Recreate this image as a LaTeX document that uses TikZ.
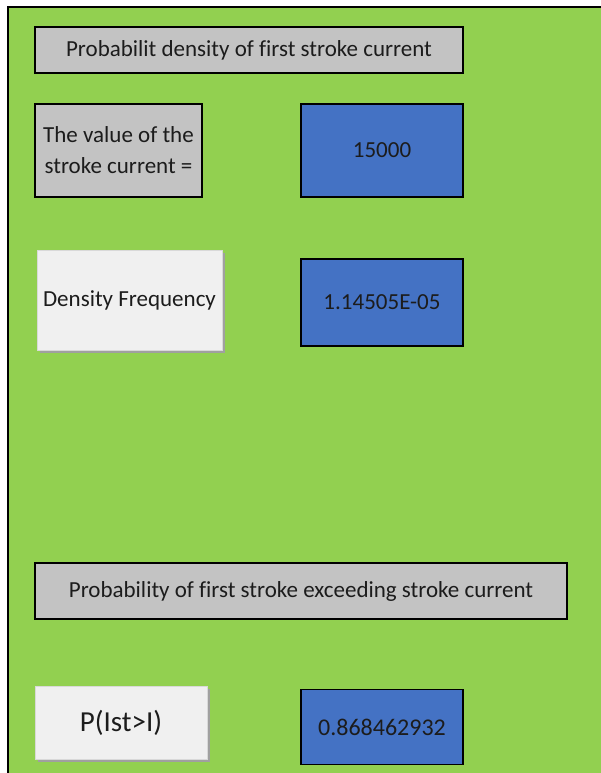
\documentclass[tikz,border=0pt]{standalone}
\usepackage{fontspec}
\setmainfont[Ligatures=NoCommon]{Carlito}
\usetikzlibrary{shadows}
\definecolor{bggreen}{HTML}{92D050}
\definecolor{cellblue}{HTML}{4472C4}
\definecolor{cellgray}{HTML}{C3C3C3}
\definecolor{btnface}{HTML}{F0F0F0}
\definecolor{btnshadow}{HTML}{A0A0A0}
\definecolor{txt}{HTML}{1C1C1C}
\begin{document}
\begin{tikzpicture}[x=1pt,y=-1pt,
  cell/.style={draw=black, line width=1.5pt, text=txt, inner sep=0pt,
    font=\fontsize{23}{31}\selectfont, align=center},
  graybox/.style={cell, fill=cellgray},
  bluebox/.style={cell, fill=cellblue},
  button/.style={draw=btnface!80!gray, line width=0.6pt, fill=btnface, text=txt,
    inner sep=0pt, align=center, font=\fontsize{23}{27}\selectfont,
    drop shadow={shadow xshift=2.5pt, shadow yshift=-2.5pt, fill=btnshadow, opacity=1}}
]
\useasboundingbox (0,0) rectangle (601,773);
\fill[white] (0,0) rectangle (601,773);
\fill[bggreen] (8,7) rectangle (601,773);
\draw[line width=2.5pt] (8,773) -- (8,7) -- (601,7);

\node[graybox, minimum width=428pt, minimum height=46pt] (title) at (249,50)
  {Probabilit density of first stroke current};
\node[graybox, minimum width=167pt, minimum height=93pt] (vallabel) at (118.5,150.5)
  {The value of the\\stroke current =};
\node[bluebox, minimum width=162pt, minimum height=93pt] (val) at (382,150.5) {15000};
\node[button, minimum width=185pt, minimum height=100pt] (densbtn) at (129.5,300)
  {Density Frequency};
\node[bluebox, minimum width=162pt, minimum height=87pt] (dens) at (382,302.5) {1.14505E-05};
\node[graybox, minimum width=532pt, minimum height=56pt] (probtitle) at (301,591)
  {Probability of first stroke exceeding stroke current};
\node[button, minimum width=172pt, minimum height=73pt, font=\fontsize{29}{33}\selectfont]
  (pbtn) at (121,722.5) {P(Ist>I)};
\node[bluebox, minimum width=162pt, minimum height=75pt, font=\fontsize{24}{28}\selectfont]
  (pval) at (382,727) {0.868462932};
\end{tikzpicture}
\end{document}
